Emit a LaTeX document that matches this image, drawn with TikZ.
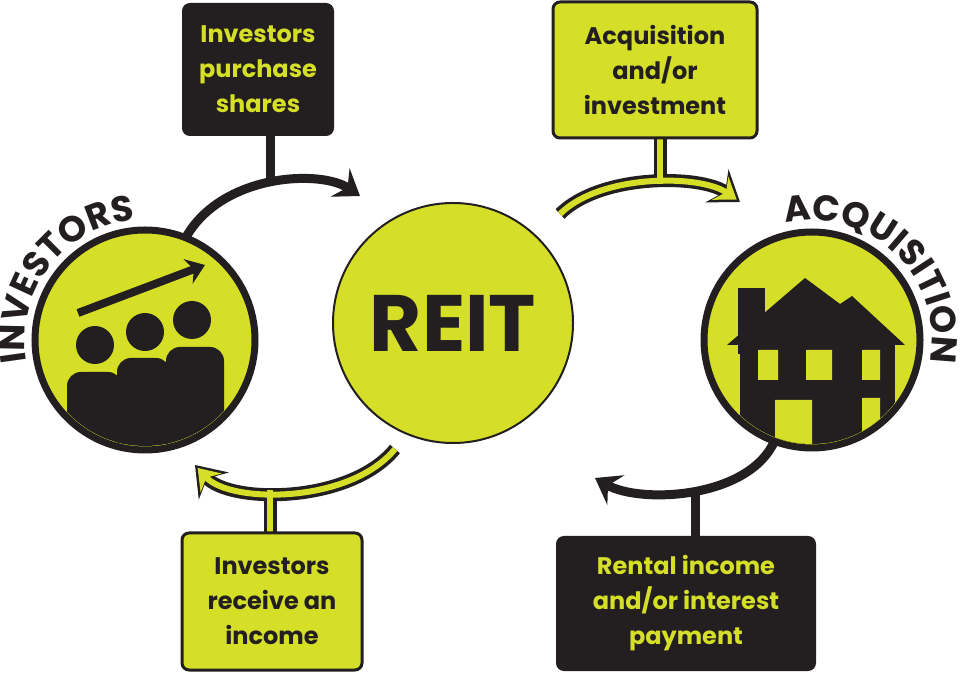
\documentclass[tikz,border=0pt]{standalone}
\usepackage{fontspec}
\setmainfont{Poppins}
\usetikzlibrary{arrows.meta,decorations.text}
\definecolor{lime}{HTML}{D5DF27}
\definecolor{ink}{HTML}{231F20}
\tikzset{
  darkbox/.style={draw=ink,fill=ink,line width=2pt,rounded corners=7pt,text=lime,align=center,font=\fontsize{24}{35}\selectfont\bfseries},
  limebox/.style={draw=ink,fill=lime,line width=3pt,rounded corners=7pt,text=ink,align=center,font=\fontsize{24}{35}\selectfont\bfseries},
  bigdisc/.style={circle,draw=ink,fill=lime},
  darkflow/.style={ink,line width=9pt,-{Stealth[length=24pt,width=34pt,inset=9pt]}},
  limeout/.style={ink,line width=13pt,-{Stealth[length=28pt,width=40pt,inset=10pt]}},
  limein/.style={lime,line width=6pt,shorten >=4pt,-{Stealth[length=20pt,width=28pt,inset=7pt]}},
  ringtext/.style={decorate,decoration={text along path,text align=center,
    text={|\fontsize{36}{40}\selectfont\bfseries\color{ink}|#1}}},
}
\begin{document}
\begin{tikzpicture}[x=1pt,y=1pt]
  \useasboundingbox (0,0) rectangle (960,674);

  % coordinates
  \coordinate (reit) at (453,351);
  \coordinate (inv) at (145,334);
  \coordinate (acq) at (812,334);

  % connectors, outlines first
  \draw[darkflow] (185,435) .. controls (220,500) and (320,505) .. (360,478) coordinate (tl);
  \draw[ink,line width=9pt] (270,539) -- (270,490);
  \draw[darkflow] (775,234) .. controls (750,175) and (640,170) .. (595,196) coordinate (br);
  \draw[ink,line width=9pt] (695,137) -- (695,180);
  \draw[limeout] (560,460) .. controls (600,500) and (700,500) .. (740,472) coordinate (tr);
  \draw[ink,line width=13pt] (660,536) -- (660,488);
  \draw[limeout] (395,225) .. controls (350,170) and (230,170) .. (195,209) coordinate (bl);
  \draw[ink,line width=13pt] (270,141) -- (270,186);
  % lime cores
  \draw[limein] (560,460) .. controls (600,500) and (700,500) .. (740,472);
  \draw[lime,line width=6pt] (660,540) -- (660,490);
  \draw[limein] (395,225) .. controls (350,170) and (230,170) .. (195,209);
  \draw[lime,line width=6pt] (270,137) -- (270,184);

  % boxes
  \node[darkbox,minimum width=150pt,minimum height=131pt] (buy) at (258,604.5) {Investors\\purchase\\shares};
  \node[limebox,minimum width=204pt,minimum height=136pt] (deal) at (655,604) {Acquisition\\and/or\\investment};
  \node[limebox,minimum width=180pt,minimum height=137pt] (paid) at (272,72.5) {Investors\\receive an\\income};
  \node[darkbox,minimum width=258pt,minimum height=133pt] (rent) at (686,70.5) {Rental income\\and/or interest\\payment};

  % REIT
  \node[bigdisc,line width=2pt,minimum size=240pt,font=\fontsize{80}{80}\selectfont\bfseries,text=ink] (trust) at (reit) {REIT};

  % investors
  \node[bigdisc,line width=7pt,minimum size=220pt] (group) at (inv) {};
  \begin{scope}
    \clip (inv) circle (106);
    \fill[ink,rounded corners=14pt] (67,302) rectangle (122,200);
    \fill[ink,rounded corners=14pt] (117,316) rectangle (170,200);
    \fill[ink,rounded corners=14pt] (166,327) rectangle (224,200);
  \end{scope}
  \fill[ink] (95,329) circle (19) (145,342) circle (19) (192,354) circle (19);
  \draw[ink,line width=8pt,-{Stealth[length=18pt,width=26pt,inset=6pt]}] (78,361) -- (205,409);
  \path[ringtext=INVESTORS] (inv) ++(203:120) arc[start angle=203,end angle=82,radius=120];

  % acquisition
  \node[bigdisc,line width=7pt,minimum size=216pt] (home) at (acq) {};
  \begin{scope}
    \clip (acq) circle (104);
    \fill[ink] (738,386) rectangle (765,320);
    \fill[ink] (727,329) -- (805,396) -- (840,370) -- (852,378) -- (905,329) -- cycle;
    \fill[ink] (740,332) rectangle (895,200);
    \fill[lime] (758,324) rectangle (778,294) (806,324) rectangle (832,294) (862,324) rectangle (880,294);
    \fill[lime] (775,274) rectangle (812,200) (862,276) rectangle (880,200);
  \end{scope}
  \path[ringtext=ACQUISITION] (acq) ++(112:120) arc[start angle=112,end angle=-20,radius=120];
\end{tikzpicture}
\end{document}
